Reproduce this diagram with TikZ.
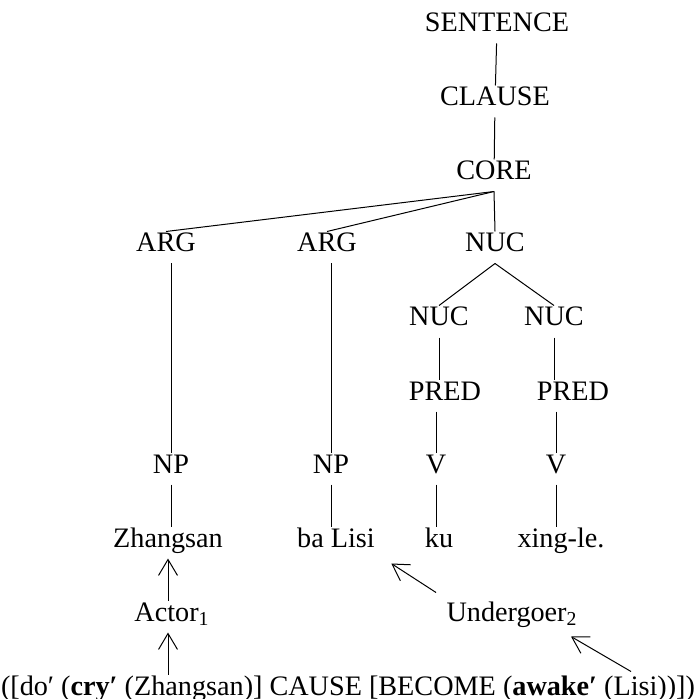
\documentclass[tikz,border=0pt]{standalone}
\usepackage{fontspec}
\setmainfont{Liberation Serif}
\usetikzlibrary{arrows.meta}
\begin{document}
\begin{tikzpicture}[x=0.5pt,y=-0.5pt,line width=0.5pt]
\tikzset{mot/.style={anchor=base, inner xsep=2pt, inner ysep=3pt, text height=0.7em, text depth=0.25em, font=\fontsize{14.1}{16}\selectfont},
fl/.style={-{Straight Barb[length=8pt,width=9.5pt]}}}
\useasboundingbox (0,0) rectangle (698,699);
\node[mot] (S) at (497,32) {SENTENCE};
\node[mot] (CL) at (495,106) {CLAUSE};
\node[mot] (CO) at (494,180) {CORE};
\node[mot] (A1) at (166,252) {ARG};
\node[mot] (A2) at (327,252) {ARG};
\node[mot] (N) at (495,252) {NUC};
\node[mot] (N1) at (439,326) {NUC};
\node[mot] (N2) at (554,326) {NUC};
\node[mot] (P1) at (445,400) {PRED};
\node[mot] (P2) at (573,400) {PRED};
\node[mot] (NP1) at (171,473) {NP};
\node[mot] (NP2) at (331,473) {NP};
\node[mot] (V1) at (436,473) {V};
\node[mot] (V2) at (556,473) {V};
\node[mot] (W1) at (168,547) {Zhangsan};
\node[mot] (W2) at (336,547) {ba Lisi};
\node[mot] (W3) at (439,547) {ku};
\node[mot] (W4) at (561,547) {xing-le.};
\node[mot] (ACT) at (172,621) {Actor\textsubscript{1}};
\node[mot] (UND) at (512,621) {Undergoer\textsubscript{2}};
\node[mot] (LS) at (348,695) {([do′ (\textbf{cry′} (Zhangsan)] CAUSE [BECOME (\textbf{awake′} (Lisi))])};
\draw (S) -- (CL);
\draw (CL) -- (CO);
\draw (CO.south) -- (A1.north);
\draw (CO.south) -- (A2.north);
\draw (CO.south) -- (N.north);
\draw (N.south) -- (N1.north);
\draw (N.south) -- (N2.north);
\draw (N1.south) -- (N1.south |- P1.north);
\draw (N2.south) -- (N2.south |- P2.north);
\draw (V1.north |- P1.south) -- (V1.north);
\draw (V2.north |- P2.south) -- (V2.north);
\draw (V1.south) -- (V1.south |- W3.north);
\draw (V2.south) -- (V2.south |- W4.north);
\draw (NP1.north |- A1.south) -- (NP1.north);
\draw (NP2.north |- A2.south) -- (NP2.north);
\draw (NP1.south) -- (NP1.south |- W1.north);
\draw (NP2.south) -- (NP2.south |- W2.north);
\draw[fl] (W1.south |- ACT.north) -- (W1.south);
\draw[fl] (W1.south |- LS.north) -- (W1.south |- ACT.south);
\draw[fl] ([shift={(-6,-8)}]UND.north west) -- ([shift={(12,5)}]W2.south east);
\draw[fl] ([shift={(283,-3)}]LS.north) -- ([shift={(-11,4)}]UND.south east);
\end{tikzpicture}
\end{document}
